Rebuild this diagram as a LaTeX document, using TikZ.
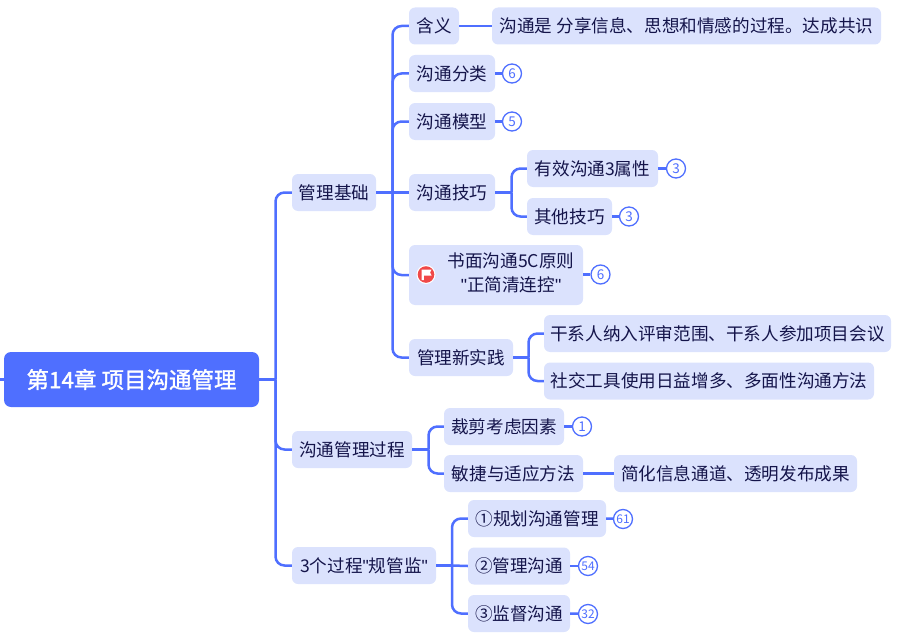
\documentclass[tikz,border=0pt]{standalone}
\usepackage{fontspec}
\setmainfont{Noto Sans CJK SC}
\newfontfamily\quotefont{Liberation Sans}
\newfontfamily\rootfont[FakeBold=1.5]{Noto Sans CJK SC}
\newcommand{\sq}{{\quotefont\char34}}
\definecolor{lineblue}{HTML}{4F6FFF}
\definecolor{boxfill}{HTML}{DBE2FD}
\definecolor{inkc}{HTML}{14144A}
\definecolor{flagred}{HTML}{F04848}
\tikzset{
  x=1pt,y=-1pt,
  box/.style={fill=boxfill,text=inkc,rounded corners=6pt,inner sep=0pt,minimum height=37pt,
    font=\fontsize{17.6}{23}\selectfont,align=center},
  rootbox/.style={fill=lineblue,text=white,rounded corners=7pt,inner sep=0pt,minimum width=255pt,minimum height=55pt,
    font=\fontsize{22.5}{26}\selectfont\rootfont},
  badge/.style={circle,draw=lineblue,line width=1.3pt,fill=white,text=lineblue,inner sep=0pt,minimum size=19pt,
    font=\fontsize{13.5}{14}\selectfont},
  badgetwo/.style={badge,font=\fontsize{12}{14}\selectfont},
  conn/.style={draw=lineblue,line width=2.5pt,rounded corners=9pt},
  stem/.style={draw=lineblue,line width=2.5pt},
}
\begin{document}
\begin{tikzpicture}
\useasboundingbox (0,0) rectangle (921,642);
\node[rootbox] (root) at (131.5,379.5) {第14章 项目沟通管理};
\node[box,minimum width=84pt] (jc) at (334,192.5) {管理基础};
\node[box,minimum width=120pt] (gc) at (352,449.5) {沟通管理过程};
\node[box,minimum width=144pt] (gl) at (364,565.5) {3个过程\sq 规管监\sq};
\node[box,minimum width=50pt] (hy) at (434,26) {含义};
\node[box,minimum width=389pt] (hyd) at (686.5,26) {沟通是 分享信息、思想和情感的过程。达成共识};
\node[box,minimum width=86pt] (fl) at (452,73.5) {沟通分类};
\node[box,minimum width=86pt] (mx) at (452,121.5) {沟通模型};
\node[box,minimum width=86pt] (jq) at (452,192.5) {沟通技巧};
\node[box,minimum width=131pt] (yx) at (592.5,168.5) {有效沟通3属性};
\node[box,minimum width=85pt] (qt) at (569.5,216.5) {其他技巧};
\node[box,minimum width=174pt,minimum height=60pt] (sm) at (496,275) {\hspace*{30pt}\raisebox{-2.5pt}{\begin{tabular}{@{}c@{}}书面沟通5C原则\\[1pt]\sq 正简清连控\sq\end{tabular}}};
\node[box,minimum width=104pt] (xs) at (461,357.5) {管理新实践};
\node[box,minimum width=347pt] (gx) at (717.5,333.5) {干系人纳入评审范围、干系人参加项目会议};
\node[box,minimum width=330pt] (sj) at (709,381) {社交工具使用日益增多、多面性沟通方法};
\node[box,minimum width=120pt] (cj) at (504,426.5) {裁剪考虑因素};
\node[box,minimum width=139pt] (mj) at (513.5,473.5) {敏捷与适应方法};
\node[box,minimum width=243pt] (jh) at (735.5,473.5) {简化信息通道、透明发布成果};
\node[box,minimum width=138pt] (p1) at (537,518.5) {①规划沟通管理};
\node[box,minimum width=102pt] (p2) at (519,566) {②管理沟通};
\node[box,minimum width=102pt] (p3) at (519,613.5) {③监督沟通};
\node[badge] (b1) at (512,73.5) {6};
\node[badge] (b2) at (512,121.5) {5};
\node[badge] (b3) at (676,168.5) {3};
\node[badge] (b4) at (629,216.5) {3};
\node[badge] (b5) at (600.5,274.5) {6};
\node[badge] (b6) at (582,426.5) {1};
\node[badgetwo] (b7) at (623,519) {61};
\node[badgetwo] (b8) at (588,566) {54};
\node[badgetwo] (b9) at (588,614) {32};
\coordinate (left) at (0,379.5);
\coordinate (s0) at (275.5,379.5);
\coordinate (s1) at (392.5,192.5);
\coordinate (s2) at (511.5,192.5);
\coordinate (s3) at (528.5,357.5);
\coordinate (s4) at (428.5,449.5);
\coordinate (s5) at (452,565.5);
\draw[stem] (left) -- (root.west);
\draw[stem] (root.east) -- (s0);
\draw[conn] (s0) |- (jc.west);
\draw[conn] (s0) |- (gc.west);
\draw[conn] (s0) |- (gl.west);
\draw[stem] (jc.east) -- (jq.west);
\draw[conn] (s1) |- (hy.west);
\draw[stem] (hy.east) -- (hyd.west);
\draw[conn] (s1) |- (fl.west);
\draw[conn] (s1) |- (mx.west);
\draw[conn] (s1) |- (sm.west);
\draw[conn] (s1) |- (xs.west);
\draw[stem] (jq.east) -- (s2);
\draw[conn] (s2) |- (yx.west);
\draw[conn] (s2) |- (qt.west);
\draw[stem] (xs.east) -- (s3);
\draw[conn] (s3) |- (gx.west);
\draw[conn] (s3) |- (sj.west);
\draw[stem] (gc.east) -- (s4);
\draw[conn] (s4) |- (cj.west);
\draw[conn] (s4) |- (mj.west);
\draw[stem] (mj.east) -- (jh.west);
\draw[stem] (gl.east) -- (s5);
\draw[conn] (s5) |- (p1.west);
\draw[stem] (s5) -- (p2.west);
\draw[conn] (s5) |- (p3.west);
\draw[stem] (fl.east) -- (b1);
\draw[stem] (mx.east) -- (b2);
\draw[stem] (yx.east) -- (b3);
\draw[stem] (qt.east) -- (b4);
\draw[stem] (sm.east |- b5) -- (b5);
\draw[stem] (cj.east) -- (b6);
\draw[stem] (p1.east) -- (b7);
\draw[stem] (p2.east) -- (b8);
\draw[stem] (p3.east) -- (b9);
\fill[white] (426,274.5) circle (9.5);
\fill[flagred] (426,274.5) circle (8.3);
\fill[white] (421.5,269.5) -- (431.5,269.5) -- (430,272.5) -- (431.5,275.5) -- (423.8,275.5) -- (423.8,280) -- (421.5,280) -- cycle;
\end{tikzpicture}
\end{document}
